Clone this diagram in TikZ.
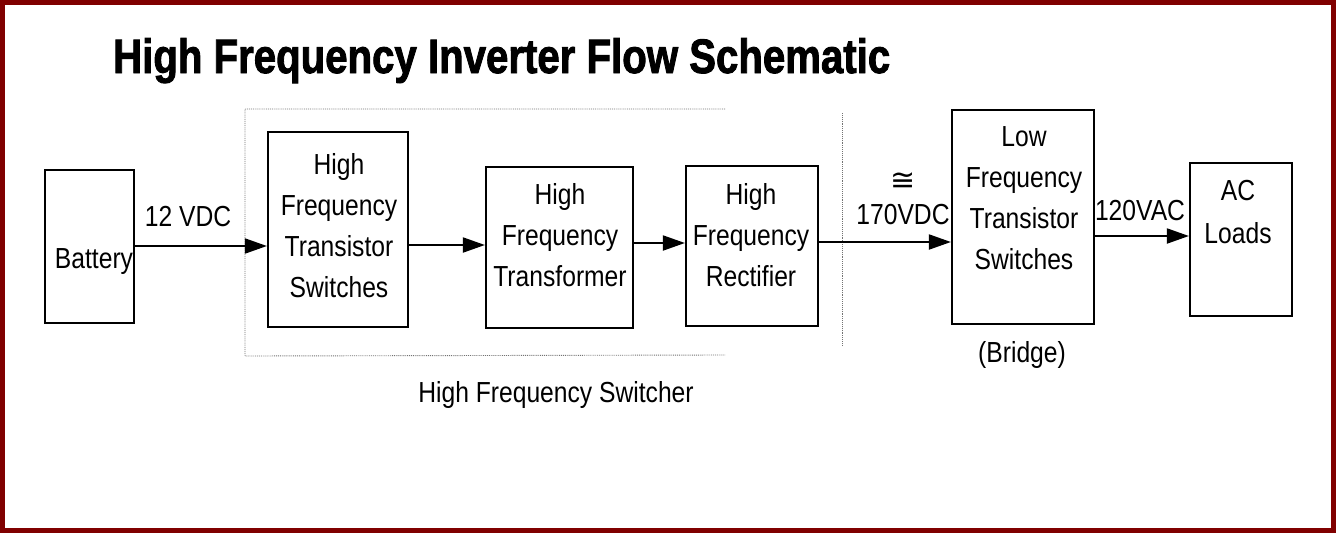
\documentclass[tikz,border=0pt]{standalone}
\usepackage{fontspec}
\setmainfont{Liberation Sans}[FakeStretch=0.85]
\newfontfamily\titlefont{Liberation Sans}[BoldFeatures={FakeBold=2}]
\newfontfamily\symfont{DejaVu Sans}
\usetikzlibrary{arrows.meta}
\definecolor{framered}{HTML}{800000}
\begin{document}
\begin{tikzpicture}[x=1pt,y=-1pt,
  blockbox/.style={draw=black, line width=2.2pt, inner sep=0pt, fill=white},
  txt/.style={inner sep=0pt, anchor=base, font=\fontsize{29}{41}\selectfont},
  flow/.style={line width=2pt, -{Triangle[length=22pt,width=15pt]}},
  region/.style={densely dotted, line width=0.9pt, black!55}]
\useasboundingbox (0,0) rectangle (1336,533);
\fill[white] (0,0) rectangle (1336,533);
\draw[framered, line width=4.5pt] (2.25,2.25) rectangle (1333.5,530.5);

% title
\node[inner sep=0pt, anchor=base west] (title) at (113,73)
  {\resizebox{777pt}{35pt}{\titlefont\bfseries High Frequency Inverter Flow Schematic}};

% switcher region
\coordinate (rtl) at (245,109);
\coordinate (rtr) at (725,109);
\coordinate (rbl) at (245,356);
\coordinate (rbr) at (725,355);
\coordinate (rrt) at (842,113);
\coordinate (rrb) at (842,346);
\draw[region] (rtr) -- (rtl) -- (rbl) -- (rbr);
\draw[region] (rrt) -- (rrb);

% blocks
\node[blockbox, minimum width=89pt, minimum height=153pt] (bat) at (89.5,246.5) {};
\node[blockbox, minimum width=140pt, minimum height=195pt] (hfts) at (338,229.5) {};
\node[blockbox, minimum width=147pt, minimum height=161pt] (hftr) at (559.5,247.5) {};
\node[blockbox, minimum width=132pt, minimum height=160pt] (hfrec) at (752,246) {};
\node[blockbox, minimum width=142pt, minimum height=214pt] (lfts) at (1023,217) {};
\node[blockbox, minimum width=102pt, minimum height=153pt] (ac) at (1241,239.5) {};

% block texts
\node[txt] (tbat) at (94,268) {Battery};
\node[txt] (thfts) at (339,174) {\begin{tabular}[t]{@{}c@{}}High\\Frequency\\Transistor\\Switches\end{tabular}};
\node[txt] (thftr) at (560,204) {\begin{tabular}[t]{@{}c@{}}High\\Frequency\\Transformer\end{tabular}};
\node[txt] (thfrec) at (751,204) {\begin{tabular}[t]{@{}c@{}}High\\Frequency\\Rectifier\end{tabular}};
\node[txt] (tlfts) at (1024,146) {\begin{tabular}[t]{@{}c@{}}Low\\Frequency\\Transistor\\Switches\end{tabular}};
\node[txt, font=\fontsize{29}{43}\selectfont] (tac) at (1238,200) {\begin{tabular}[t]{@{}c@{}}AC\\Loads\end{tabular}};
\node[txt] (tbridge) at (1022,362) {(Bridge)};
\node[txt] (tswitcher) at (556,402) {High Frequency Switcher};

% connector labels
\node[txt] (l12) at (188,226) {12 VDC};
\node[txt, font=\fontsize{30}{34}\symfont] (lapprox) at (903,190) {≅};
\node[txt] (l170) at (903,224) {170VDC};
\node[txt] (l120) at (1140,220) {120VAC};

% connectors
\coordinate (ya) at (0,246);
\coordinate (yb) at (0,245);
\coordinate (yc) at (0,243);
\coordinate (yd) at (0,242);
\coordinate (ye) at (0,236);
\draw[flow] (bat.east |- ya) -- (hfts.west |- ya);
\draw[flow] (hfts.east |- yb) -- (hftr.west |- yb);
\draw[flow] (hftr.east |- yc) -- (hfrec.west |- yc);
\draw[flow] (hfrec.east |- yd) -- (lfts.west |- yd);
\draw[flow] (lfts.east |- ye) -- (ac.west |- ye);
\end{tikzpicture}
\end{document}
